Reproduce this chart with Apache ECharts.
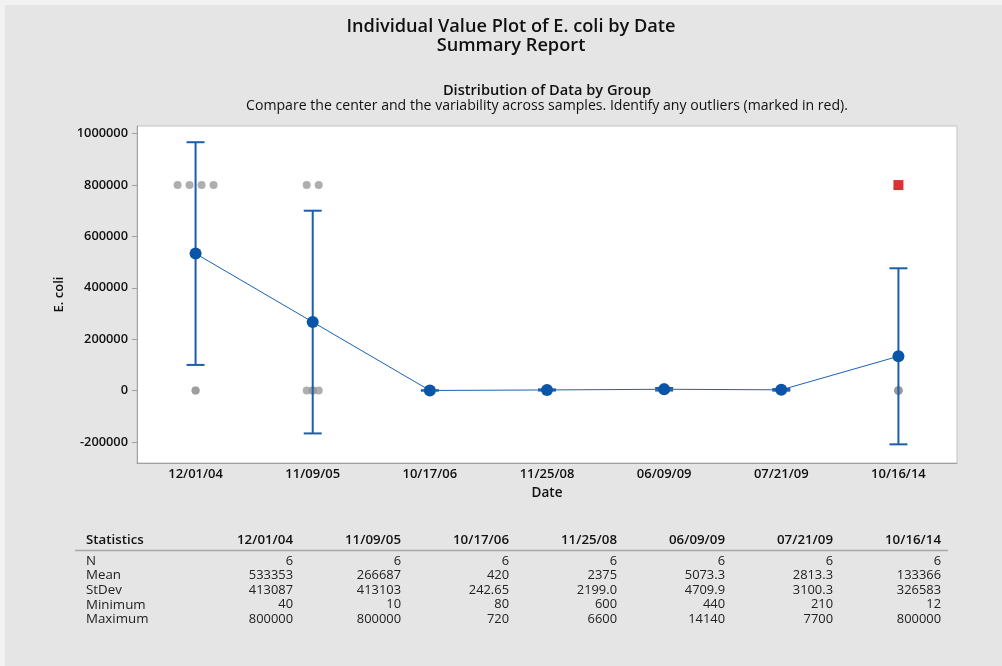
<!DOCTYPE html>
<html><head><meta charset="utf-8">
<script src="https://cdn.jsdelivr.net/npm/echarts@6/dist/echarts.min.js"></script>
<style>html,body{margin:0;padding:0;background:#e5e5e5;}#c{width:1002px;height:666px;}</style>
</head><body><div id="c"></div>
<script>
// ---- data ----
const dates = ['12/01/04','11/09/05','10/17/06','11/25/08','06/09/09','07/21/09','10/16/14'];
const yTicks = [-200000, 0, 200000, 400000, 600000, 800000, 1000000];
const vals_120104 = [40, 78, 800000, 800000, 800000, 800000];
const vals_110905 = [10, 10, 40, 62, 800000, 800000];
const vals_101706 = [80, 250, 400, 500, 570, 720];
const vals_112508 = [600, 900, 1200, 1450, 3500, 6600];
const vals_060909 = [440, 1500, 3000, 5000, 6360, 14140];
const vals_072109 = [210, 700, 1200, 2070, 5000, 7700];
const vals_101614 = [12, 30, 40, 50, 64, 800000];
const outlierValues = [[], [], [], [], [], [], [800000]];
const nValues = [6, 6, 6, 6, 6, 6, 6];
const means = [533353, 266687, 420, 2375, 5073.3, 2813.3, 133366];
const stdevs = [413087, 413103, 242.65, 2199.0, 4709.9, 3100.3, 326583];
const statRowNames = ['N', 'Mean', 'StDev', 'Minimum', 'Maximum'];
const nText = ['6','6','6','6','6','6','6'];
const meanText = ['533353','266687','420','2375','5073.3','2813.3','133366'];
const stdevText = ['413087','413103','242.65','2199.0','4709.9','3100.3','326583'];
const minText = ['40','10','80','600','440','210','12'];
const maxText = ['800000','800000','720','6600','14140','7700','800000'];

const groups = [vals_120104, vals_110905, vals_101706, vals_112508, vals_060909, vals_072109, vals_101614];
const T975_5 = 2.5706; // t quantile, df = 5

// ---- build series data ----
const FONT = '"Open Sans", "Noto Sans", sans-serif';
const dotData = [];
const outlierData = [];
groups.forEach((vals, i) => {
  const outs = outlierValues[i].slice();
  const rest = [];
  vals.forEach(v => {
    const k = outs.indexOf(v);
    if (k >= 0) { outs.splice(k, 1); outlierData.push([i, v]); }
    else rest.push(v);
  });
  const counts = {};
  rest.forEach(v => counts[v] = (counts[v] || 0) + 1);
  const seen = {};
  rest.forEach(v => {
    const c = counts[v];
    const k = seen[v] = (seen[v] === undefined ? 0 : seen[v] + 1);
    const off = (k - (c - 1) / 2) * 12;
    dotData.push({ value: [i, v], symbolOffset: [off, 0] });
  });
});
const ciData = means.map((m, i) => {
  const h = T975_5 * stdevs[i] / Math.sqrt(nValues[i]);
  return [i, m - h, m + h];
});

// ---- text / table graphics ----
const graphics = [
  { type: 'rect', shape: { x: 0, y: 0, width: 1002, height: 5 }, style: { fill: '#f2f2f2' }, silent: true },
  { type: 'rect', shape: { x: 0, y: 0, width: 5, height: 666 }, style: { fill: '#f2f2f2' }, silent: true },
  { type: 'text', x: 511, y: 27, style: { text: 'Individual Value Plot of E. coli by Date', font: '600 18.2px ' + FONT, fill: '#111', align: 'center', verticalAlign: 'middle' } },
  { type: 'text', x: 511, y: 46, style: { text: 'Summary Report', font: '600 18.2px ' + FONT, fill: '#111', align: 'center', verticalAlign: 'middle' } },
  { type: 'text', x: 547, y: 91, style: { text: 'Distribution of Data by Group', font: '600 14.6px ' + FONT, fill: '#111', align: 'center', verticalAlign: 'middle' } },
  { type: 'text', x: 547, y: 106, style: { text: 'Compare the center and the variability across samples. Identify any outliers (marked in red).', font: '400 14.1px ' + FONT, fill: '#111', align: 'center', verticalAlign: 'middle' } },
  { type: 'text', x: 86, y: 540, style: { text: 'Statistics', font: '600 13.3px ' + FONT, fill: '#111', align: 'left', verticalAlign: 'middle' } },
  { type: 'line', shape: { x1: 75, y1: 550.5, x2: 948, y2: 550.5 }, style: { stroke: '#a8a8a8', lineWidth: 1.5 } }
];
const colRight = i => 293 + 108 * i;
dates.forEach((d, i) => {
  graphics.push({ type: 'text', x: colRight(i), y: 540, style: { text: d, font: '600 13.3px ' + FONT, fill: '#111', align: 'right', verticalAlign: 'middle' } });
});
const rows = [nText, meanText, stdevText, minText, maxText];
rows.forEach((row, r) => {
  const y = 561 + r * 14.6;
  graphics.push({ type: 'text', x: 86, y: y, style: { text: statRowNames[r], font: '400 13.3px ' + FONT, fill: '#222', align: 'left', verticalAlign: 'middle' } });
  row.forEach((t, i) => {
    graphics.push({ type: 'text', x: colRight(i), y: y, style: { text: t, font: '400 12.9px ' + FONT, fill: '#222', align: 'right', verticalAlign: 'middle' } });
  });
});

const BLUE = '#0a55a8';
const chart = echarts.init(document.getElementById('c'), null, { renderer: 'canvas' });
chart.setOption({
  backgroundColor: '#e5e5e5',
  animation: false,
  grid: { left: 137, top: 126, right: 45, bottom: 203, show: true, backgroundColor: '#ffffff', borderColor: '#c4c4c4', borderWidth: 1 },
  xAxis: {
    type: 'category', data: dates, boundaryGap: true,
    name: 'Date', nameLocation: 'middle', nameGap: 22,
    nameTextStyle: { fontFamily: FONT, fontSize: 13.5, fontWeight: 600, color: '#111' },
    axisLine: { onZero: false, lineStyle: { color: '#a0a0a0', width: 1 } },
    axisTick: { alignWithLabel: true, length: 5, lineStyle: { color: '#a0a0a0' } },
    axisLabel: { fontFamily: FONT, fontSize: 13, fontWeight: 600, color: '#111', margin: 5 },
    splitLine: { show: false }
  },
  yAxis: {
    type: 'value', min: -282000, max: 1030000,
    name: 'E. coli', nameLocation: 'middle', nameGap: 70, nameRotate: 90,
    nameTextStyle: { fontFamily: FONT, fontSize: 13, fontWeight: 600, color: '#111' },
    axisLine: { show: true, lineStyle: { color: '#a0a0a0', width: 1 } },
    axisTick: { show: true, length: 5, customValues: yTicks, lineStyle: { color: '#a0a0a0' } },
    axisLabel: { customValues: yTicks, formatter: v => String(v), fontFamily: FONT, fontSize: 12.8, fontWeight: 600, color: '#111', margin: 9 },
    splitLine: { show: false }
  },
  series: [
    { type: 'scatter', data: dotData, symbol: 'circle', symbolSize: 8, itemStyle: { color: '#9a9a9a' }, z: 2 },
    {
      type: 'custom', z: 3, data: ciData,
      renderItem: function (params, api) {
        const x = api.value(0);
        const lo = api.coord([x, api.value(1)]);
        const hi = api.coord([x, api.value(2)]);
        const hw = 9;
        const st = { stroke: '#1b5fab', lineWidth: 2 };
        return { type: 'group', children: [
          { type: 'line', shape: { x1: lo[0], y1: lo[1], x2: hi[0], y2: hi[1] }, style: st },
          { type: 'line', shape: { x1: hi[0] - hw, y1: hi[1], x2: hi[0] + hw, y2: hi[1] }, style: st },
          { type: 'line', shape: { x1: lo[0] - hw, y1: lo[1], x2: lo[0] + hw, y2: lo[1] }, style: st }
        ] };
      }
    },
    { type: 'line', data: means, symbol: 'circle', symbolSize: 12, showAllSymbol: true, itemStyle: { color: BLUE }, lineStyle: { color: '#1a63b5', width: 1 }, z: 4 },
    { type: 'scatter', data: outlierData, symbol: 'rect', symbolSize: 10, itemStyle: { color: '#cc0000' }, z: 5 }
  ],
  graphic: graphics
});
</script></body></html>
